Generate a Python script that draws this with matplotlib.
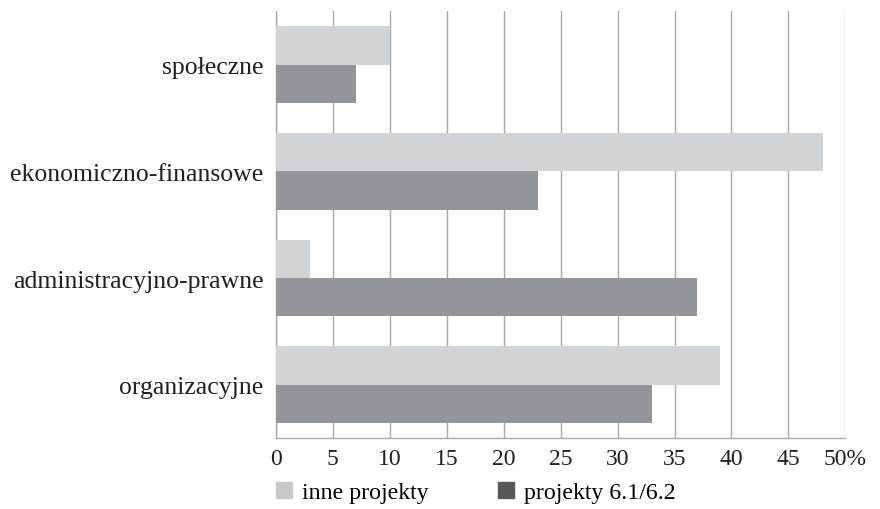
import numpy as np
import matplotlib
matplotlib.use("Agg")
import matplotlib.pyplot as plt
from matplotlib.patches import Patch

categories = ["organizacyjne", "administracyjno-prawne", "ekonomiczno-finansowe", "społeczne"]
inne = [39, 3, 48, 10]
projekty = [33, 37, 23, 7]
series_names = ["inne projekty", "projekty 6.1/6.2"]
ticks = [0, 5, 10, 15, 20, 25, 30, 35, 40, 45, 50]
tick_labels = ["0", "5", "10", "15", "20", "25", "30", "35", "40", "45", "50%"]

plt.rcParams['font.family'] = ['Liberation Serif', 'DejaVu Serif']

fig = plt.figure(figsize=(8.8, 5.1), dpi=100)
ax = fig.add_axes([0.3136, 0.139, 0.647, 0.837])

y = np.arange(len(categories))
h = 0.36
ax.barh(y + h / 2, inne, height=h, color="#d1d3d4", zorder=3)
ax.barh(y - h / 2, projekty, height=h, color="#939598", zorder=3)

ax.set_xlim(0, 50)
ax.set_ylim(-0.5, 3.5)
ax.set_xticks(ticks)
ax.set_xticklabels(tick_labels, fontsize=17)
ax.set_yticks(y)
ax.set_yticklabels(categories, fontsize=18.5, color="#231f20")
ax.tick_params(length=0, pad=9)
ax.tick_params(axis="x", colors="#231f20", pad=7)

ax.grid(axis="x", color="#a7a9ac", linewidth=1, zorder=0)
for s in ["top", "right"]:
    ax.spines[s].set_visible(False)
for s in ["left", "bottom"]:
    ax.spines[s].set_color("#a7a9ac")
    ax.spines[s].set_linewidth(1)

handles = [Patch(color="#c8c8c8"), Patch(color="#58585a")]
fig.legend(handles, series_names, loc="center left", bbox_to_anchor=(0.3136, 0.032),
           ncol=2, frameon=False, fontsize=17.2, handlelength=0.68, handleheight=0.68,
           handletextpad=0.42, columnspacing=2.9, borderaxespad=0, borderpad=0)

fig.savefig("out.png", dpi=100)
